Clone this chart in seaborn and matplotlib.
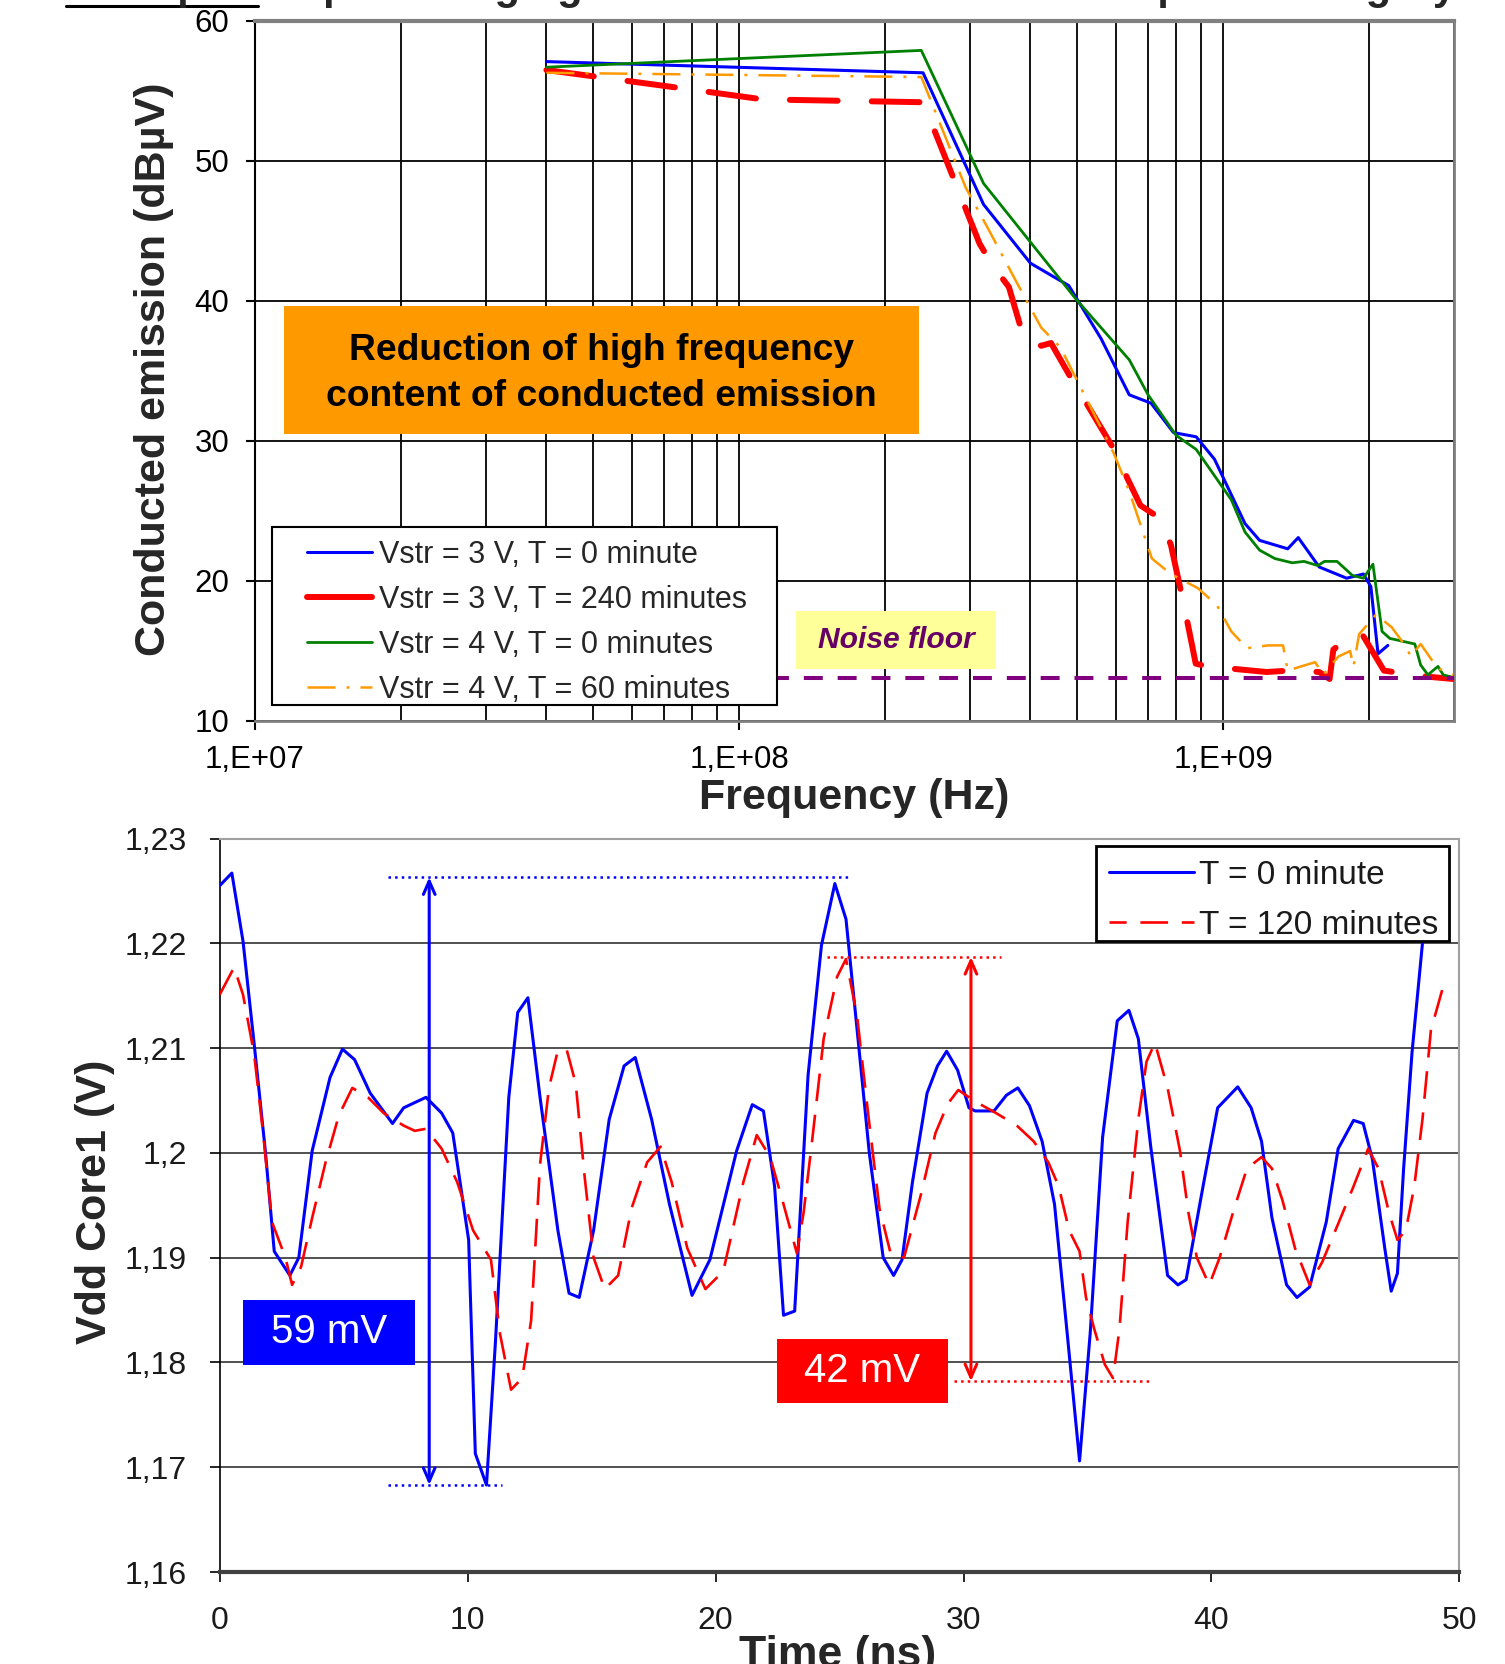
import numpy as np
import matplotlib
matplotlib.use("Agg")
import matplotlib.pyplot as plt
import seaborn as sns
from matplotlib.patches import Rectangle
from matplotlib.lines import Line2D
from matplotlib.ticker import FixedLocator, LogLocator, NullFormatter

# ---------------- data : top chart (conducted emission) ----------------
f_3v_t0 = [4.0e7, 2.4e8, 3.2e8, 4.0e8, 4.8e8, 5.6e8, 6.4e8, 7.1e8, 7.9e8, 8.8e8, 9.6e8,
           1.11e9, 1.19e9, 1.36e9, 1.43e9, 1.58e9, 1.80e9, 1.95e9, 2.02e9, 2.09e9, 2.19e9]
v_3v_t0 = [57.1, 56.3, 46.9, 42.7, 41.1, 37.3, 33.3, 32.7, 30.6, 30.3, 28.7,
           24.1, 22.9, 22.3, 23.1, 21.0, 20.2, 20.5, 19.6, 14.8, 15.4]

f_3v_t240 = [4.0e7, 7.6e7, 1.12e8, 2.38e8, 2.44e8, 3.14e8, 3.33e8, 3.61e8, 3.88e8, 4.21e8,
             4.41e8, 4.87e8, 5.24e8, 6.0e8, 6.33e8, 6.75e8, 7.39e8, 7.8e8, 8.24e8, 8.47e8,
             8.78e8, 9.27e8, 1.07e9, 1.23e9, 1.37e9, 1.58e9, 1.66e9, 1.69e9, 1.76e9, 1.93e9,
             2.15e9, 2.25e9, 2.58e9, 2.99e9]
v_3v_t240 = [56.5, 55.2, 54.4, 54.2, 53.6, 44.1, 42.6, 41.0, 37.3, 36.8,
             37.0, 34.4, 32.6, 29.2, 27.4, 25.4, 24.5, 22.6, 18.8, 16.8,
             14.1, 13.9, 13.7, 13.5, 13.6, 13.5, 13.0, 15.1, 15.6, 16.3,
             13.6, 13.5, 13.2, 13.0]

f_4v_t0 = [4.0e7, 2.38e8, 3.2e8, 4.95e8, 6.4e8, 7.0e8, 8.0e8, 8.8e8, 1.04e9, 1.11e9,
           1.19e9, 1.28e9, 1.39e9, 1.47e9, 1.57e9, 1.62e9, 1.72e9, 1.85e9, 1.95e9, 2.04e9,
           2.13e9, 2.21e9, 2.49e9, 2.56e9, 2.65e9, 2.78e9, 2.85e9, 2.99e9]
v_4v_t0 = [56.7, 57.9, 48.4, 40.2, 35.8, 33.3, 30.4, 29.4, 25.8, 23.5,
           22.2, 21.6, 21.3, 21.4, 21.1, 21.4, 21.4, 20.4, 20.2, 21.2,
           16.4, 15.9, 15.5, 14.0, 13.3, 13.9, 13.3, 13.1]

f_4v_t60 = [4.0e7, 2.38e8, 2.94e8, 3.29e8, 3.71e8, 4.21e8, 4.61e8, 5.24e8, 5.95e8, 6.4e8,
            7.13e8, 7.8e8, 8.86e8, 9.7e8, 1.04e9, 1.12e9, 1.24e9, 1.33e9, 1.36e9, 1.45e9,
            1.55e9, 1.61e9, 1.73e9, 1.83e9, 1.86e9, 1.91e9, 2.07e9, 2.23e9, 2.40e9, 2.44e9,
            2.56e9, 2.77e9, 2.99e9]
v_4v_t60 = [56.3, 56.0, 48.1, 45.0, 41.6, 38.1, 36.7, 32.9, 29.1, 26.4,
            21.6, 20.5, 19.5, 18.3, 16.4, 15.2, 15.4, 15.4, 13.6, 13.9,
            14.2, 13.3, 14.6, 15.0, 13.9, 16.2, 17.6, 16.7, 15.2, 14.6,
            15.5, 13.8, 13.3]

noise_floor_f = [1.16e8, 3.0e9]
noise_floor_v = [13.1, 13.1]

top_labels = ["Vstr = 3 V, T = 0 minute", "Vstr = 3 V, T = 240 minutes",
              "Vstr = 4 V, T = 0 minutes", "Vstr = 4 V, T = 60 minutes"]
top_xticks = [1e7, 1e8, 1e9]
top_xticklabels = ["1,E+07", "1,E+08", "1,E+09"]
top_yticks = [10, 20, 30, 40, 50, 60]

# ---------------- data : bottom chart (Vdd Core1) ----------------
t_0min = [0, 0.49, 0.94, 1.39, 1.84, 2.2, 2.83, 3.19, 3.73, 4.45, 4.95, 5.44, 6.07, 6.97, 7.42,
          8.32, 8.95, 9.4, 10.04, 10.31, 10.76, 11.12, 11.66, 12.02, 12.43, 12.92, 13.64, 14.09,
          14.5, 15.08, 15.71, 16.31, 16.76, 17.42, 18.14, 19.05, 19.77, 20.85, 21.48, 21.93,
          22.38, 22.74, 23.19, 23.73, 24.27, 24.81, 25.26, 25.71, 26.2, 26.76, 27.18, 27.52,
          27.94, 28.53, 28.95, 29.32, 29.76, 30.22, 30.47, 31.23, 31.73, 32.19, 32.66, 33.17,
          33.67, 34.18, 34.68, 35.11, 35.61, 36.2, 36.67, 37.05, 37.55, 38.23, 38.65, 38.98,
          39.66, 40.25, 41.06, 41.6, 42.02, 42.44, 43.03, 43.45, 43.96, 44.63, 45.11, 45.73,
          46.12, 46.49, 46.99, 47.25, 47.5, 47.75, 48.09, 48.51, 48.93]
v_0min = [1.2255, 1.2267, 1.2202, 1.2104, 1.2002, 1.1906, 1.1883, 1.1900, 1.2002, 1.2072,
          1.2099, 1.2089, 1.2057, 1.2028, 1.2043, 1.2053, 1.2038, 1.2019, 1.1917, 1.1713,
          1.1683, 1.1819, 1.2053, 1.2134, 1.2148, 1.2053, 1.1926, 1.1866, 1.1862, 1.1926,
          1.2032, 1.2083, 1.2091, 1.2032, 1.1951, 1.1864, 1.1898, 1.2002, 1.2046, 1.2040,
          1.1968, 1.1845, 1.1849, 1.2074, 1.2198, 1.2257, 1.2223, 1.2117, 1.2000, 1.1900,
          1.1883, 1.1898, 1.1972, 1.2057, 1.2083, 1.2097, 1.2079, 1.2043, 1.2040, 1.2040,
          1.2055, 1.2062, 1.2045, 1.2011, 1.1951, 1.1828, 1.1706, 1.1828, 1.2015, 1.2126,
          1.2136, 1.2109, 1.2006, 1.1883, 1.1874, 1.1879, 1.1968, 1.2043, 1.2063, 1.2043,
          1.2011, 1.1938, 1.1874, 1.1862, 1.1872, 1.1934, 1.2004, 1.2031, 1.2028, 1.1994,
          1.1909, 1.1868, 1.1885, 1.1985, 1.2096, 1.2200, 1.2257]

t_120min = [0, 0.58, 0.94, 1.39, 1.75, 2.11, 2.65, 2.92, 3.28, 3.73, 4.27, 4.81, 5.35, 5.98,
            6.61, 7.42, 7.87, 8.32, 8.95, 9.58, 10.22, 10.94, 11.3, 11.75, 12.2, 12.56, 12.92,
            13.28, 13.64, 14.0, 14.36, 14.72, 15.08, 15.53, 16.07, 16.61, 17.24, 17.78, 18.23,
            18.86, 19.59, 20.31, 21.12, 21.66, 22.2, 22.74, 23.28, 23.55, 23.91, 24.36, 24.9,
            25.26, 25.71, 26.16, 26.61, 27.06, 27.6, 28.28, 28.87, 29.37, 29.79, 30.47, 31.31,
            32.15, 32.83, 33.42, 33.84, 34.26, 34.68, 34.94, 35.27, 35.7, 36.03, 36.29, 36.62,
            37.05, 37.38, 37.72, 38.23, 38.73, 39.07, 39.41, 39.91, 40.33, 40.92, 41.43, 42.02,
            42.44, 42.86, 43.37, 43.96, 44.47, 45.14, 45.73, 46.32, 46.74, 47.16, 47.5, 47.84,
            48.18, 48.51, 48.85, 49.36]
v_120min = [1.2151, 1.2177, 1.2151, 1.2094, 1.2019, 1.1934, 1.1900, 1.1874, 1.1891, 1.1938,
            1.1991, 1.2036, 1.2062, 1.2053, 1.2038, 1.2026, 1.2021, 1.2023, 1.2004, 1.1972,
            1.1926, 1.1898, 1.1828, 1.1774, 1.1785, 1.1840, 1.1989, 1.2062, 1.2098, 1.2098,
            1.2066, 1.1977, 1.1900, 1.1870, 1.1883, 1.1947, 1.1991, 1.2006, 1.1972, 1.1909,
            1.1870, 1.1887, 1.1972, 1.2017, 1.1996, 1.1951, 1.1904, 1.1943, 1.2015, 1.2109,
            1.2168, 1.2185, 1.2130, 1.2036, 1.1947, 1.1904, 1.1900, 1.1960, 1.2019, 1.2047,
            1.2060, 1.2049, 1.2038, 1.2026, 1.2011, 1.1991, 1.1968, 1.1926, 1.1906, 1.1862,
            1.1832, 1.1798, 1.1785, 1.1832, 1.1934, 1.2032, 1.2087, 1.2105, 1.2062, 1.2002,
            1.1943, 1.1900, 1.1874, 1.1900, 1.1947, 1.1985, 1.1996, 1.1985, 1.1955, 1.1909,
            1.1874, 1.1896, 1.1934, 1.1968, 1.2004, 1.1985, 1.1943, 1.1917, 1.1926, 1.1968,
            1.2032, 1.2117, 1.2160]

bottom_labels = ["T = 0 minute", "T = 120 minutes"]
bottom_xticks = [0, 10, 20, 30, 40, 50]
bottom_yticks = [1.16, 1.17, 1.18, 1.19, 1.20, 1.21, 1.22, 1.23]
bottom_yticklabels = ["1,16", "1,17", "1,18", "1,19", "1,2", "1,21", "1,22", "1,23"]

# annotation values (bottom chart)
blue_span = dict(t=8.45, top=1.2263, bottom=1.1683, top_from=6.8, top_to=25.4, bot_from=6.8, bot_to=11.4)
red_span = dict(t=30.3, top=1.2187, bottom=1.1782, top_from=24.5, top_to=31.5, bot_from=29.6, bot_to=37.5)

# ---------------- styling ----------------
sns.set_theme(style="white")
plt.rcParams['font.family'] = ['Liberation Sans', 'DejaVu Sans']

W, H = 1505, 1664
fig = plt.figure(figsize=(W / 100, H / 100), dpi=100)


def fx(px):
    return px / W


def fy(py):
    return 1 - py / H


# ===================== TOP CHART =====================
ax1 = fig.add_axes([fx(255), fy(721), (1454 - 255) / W, (721 - 21) / H])
ax1.set_xscale('log')

BLUE, RED, GREEN, ORANGE, PURPLE = '#0000FF', '#FF0000', '#008000', '#FF9900', '#800080'

sns.lineplot(x=f_3v_t0, y=v_3v_t0, ax=ax1, color=BLUE, lw=2.2, sort=False,
             estimator=None, errorbar=None, zorder=3)
sns.lineplot(x=f_3v_t240, y=v_3v_t240, ax=ax1, color=RED, lw=4.3, sort=False,
             estimator=None, errorbar=None, linestyle=(0, (8, 5.7)),
             dash_capstyle='round', solid_capstyle='round', zorder=3)
sns.lineplot(x=f_4v_t0, y=v_4v_t0, ax=ax1, color=GREEN, lw=2.0, sort=False,
             estimator=None, errorbar=None, zorder=3)
sns.lineplot(x=f_4v_t60, y=v_4v_t60, ax=ax1, color=ORANGE, lw=1.8, sort=False,
             estimator=None, errorbar=None, linestyle=(0, (11.2, 4.4, 1.2, 4.4)), zorder=3)
sns.lineplot(x=noise_floor_f, y=noise_floor_v, ax=ax1, color=PURPLE, lw=2.9, sort=False,
             estimator=None, errorbar=None, linestyle=(0, (4.7, 3.7)), zorder=3)

ax1.set_xlim(1e7, 3e9)
ax1.set_ylim(10, 60)
ax1.set_yticks(top_yticks)
ax1.xaxis.set_major_locator(FixedLocator(top_xticks))
ax1.set_xticklabels(top_xticklabels)
ax1.xaxis.set_minor_locator(LogLocator(base=10, subs=np.arange(2, 10)))
ax1.xaxis.set_minor_formatter(NullFormatter())
ax1.set_axisbelow(True)
ax1.grid(True, which='both', axis='x', color='black', lw=1.3)
ax1.grid(True, which='major', axis='y', color='black', lw=1.3)
ax1.tick_params(axis='both', which='major', labelsize=22.5, direction='out', length=6.5,
                width=1.5, color='black', bottom=True, left=True, labelcolor='black')
ax1.tick_params(axis='x', which='major', pad=11)
ax1.tick_params(axis='y', which='major', pad=12)
ax1.tick_params(axis='x', which='minor', length=0, bottom=False)
for s, c, w in [('top', '#808080', 3.0), ('right', '#808080', 2.0),
                ('left', 'black', 1.5), ('bottom', '#808080', 2.0)]:
    ax1.spines[s].set_color(c)
    ax1.spines[s].set_linewidth(w)
ax1.set_xlabel('')
ax1.set_ylabel('')

# orange annotation box
ax1.add_patch(Rectangle((0.0242, 0.41), 0.5296, 0.1829, transform=ax1.transAxes,
                        facecolor=ORANGE, edgecolor='none', zorder=4))
ax1.text(0.289, 0.4964, "Reduction of high frequency\ncontent of conducted emission",
         transform=ax1.transAxes, ha='center', va='center', fontsize=26.8,
         fontweight='bold', linespacing=1.38, color='black', zorder=6)

# noise floor label
ax1.add_patch(Rectangle((0.4512, 0.0743), 0.1668, 0.0829, transform=ax1.transAxes,
                        facecolor='#FFFF99', edgecolor='none', zorder=4))
ax1.text(0.5346, 0.1157, "Noise floor", transform=ax1.transAxes, ha='center', va='center',
         fontsize=21.6, fontweight='bold', fontstyle='italic', color='#660066', zorder=6)

# legend (top)
ax1.add_patch(Rectangle((0.01418, 0.02286), 0.4212, 0.2543, transform=ax1.transAxes,
                        facecolor='white', edgecolor='black', lw=1.5, zorder=4))
top_handles = [Line2D([], [], color=BLUE, lw=2.2),
               Line2D([], [], color=RED, lw=4.3, solid_capstyle='round'),
               Line2D([], [], color=GREEN, lw=2.0),
               Line2D([], [], color=ORANGE, lw=1.8, linestyle=(0, (11.2, 4.4, 1.2, 4.4)))]
leg1 = ax1.legend(top_handles, top_labels, loc='upper left', bbox_to_anchor=(0.0434, 0.2583),
                  frameon=False, fontsize=22, handlelength=2.13, handletextpad=0.23,
                  labelspacing=0.49, borderpad=0, borderaxespad=0)
leg1.set_zorder(6)

fig.text(fx(154), fy(369), "Conducted emission (dBµV)", rotation=90, ha='center', va='center',
         fontsize=31, fontweight='bold')
fig.text(fx(854), fy(798), "Frequency (Hz)", ha='center', va='center', fontsize=31,
         fontweight='bold')

# cut-off title fragment at the very top (only its lowest part lies inside the picture)
fig.text(fx(66), fy(-1), "Example : Impact of aging on conducted emission and power integrity",
         ha='left', va='baseline', fontsize=30, fontweight='bold')
fig.add_artist(Line2D([fx(66), fx(258)], [fy(6), fy(6)], color='black', lw=2.2,
                      transform=fig.transFigure))

# ===================== BOTTOM CHART =====================
ax2 = fig.add_axes([fx(219.7), fy(1572), (1459.4 - 219.7) / W, (1572 - 838.5) / H])

sns.lineplot(x=t_0min, y=v_0min, ax=ax2, color=BLUE, lw=2.2, sort=False,
             estimator=None, errorbar=None, zorder=3)
sns.lineplot(x=t_120min, y=v_120min, ax=ax2, color=RED, lw=1.9, sort=False,
             estimator=None, errorbar=None, linestyle=(0, (10.5, 5.2)), zorder=3)

ax2.set_xlim(0, 50)
ax2.set_ylim(1.16, 1.23)
ax2.set_xticks(bottom_xticks)
ax2.set_xticklabels([str(v) for v in bottom_xticks])
ax2.set_yticks(bottom_yticks)
ax2.set_yticklabels(bottom_yticklabels)
ax2.set_axisbelow(True)
ax2.grid(True, which='major', axis='y', color='#202020', lw=1.1)
ax2.grid(False, axis='x')
ax2.tick_params(axis='both', which='major', labelsize=23, direction='out', length=7.5,
                width=1.2, color='black', bottom=True, left=True, labelcolor='#1a1a1a')
ax2.tick_params(axis='x', pad=17)
ax2.tick_params(axis='y', pad=16)
for s, c, w in [('top', '#A0A0A0', 1.5), ('right', '#A0A0A0', 1.5),
                ('left', 'black', 1.2), ('bottom', '#404040', 3.0)]:
    ax2.spines[s].set_color(c)
    ax2.spines[s].set_linewidth(w)
ax2.set_xlabel('')
ax2.set_ylabel('')

# dotted guides and double arrows
for span, col in [(blue_span, BLUE), (red_span, RED)]:
    ax2.hlines(span['top'], span['top_from'], span['top_to'], colors=col, lw=1.8,
               linestyles=':', zorder=4)
    ax2.hlines(span['bottom'], span['bot_from'], span['bot_to'], colors=col, lw=1.8,
               linestyles=':', zorder=4)
    ax2.annotate('', xy=(span['t'], span['bottom']), xytext=(span['t'], span['top']),
                 arrowprops=dict(arrowstyle='<->,head_length=0.8,head_width=0.35', color=col,
                                 lw=2.2, shrinkA=0, shrinkB=0), zorder=4)

ax2.add_patch(Rectangle((0.94, 1.1798), 6.93, 0.0062, facecolor=BLUE, edgecolor='none', zorder=5))
ax2.text(4.4, 1.1829, "59 mV", ha='center', va='center', fontsize=29, color='white', zorder=6)
ax2.add_patch(Rectangle((22.47, 1.1761), 6.9, 0.0061, facecolor=RED, edgecolor='none', zorder=5))
ax2.text(25.92, 1.17915, "42 mV", ha='center', va='center', fontsize=29, color='white', zorder=6)

# legend (bottom)
ax2.add_patch(Rectangle((0.7069, 0.8603), 0.2847, 0.1295, transform=ax2.transAxes,
                        facecolor='white', edgecolor='black', lw=2.0, zorder=5, clip_on=False))
bottom_handles = [Line2D([], [], color=BLUE, lw=2.2),
                  Line2D([], [], color=RED, lw=1.9, linestyle=(4, (10.5, 5.2)))]
leg2 = ax2.legend(bottom_handles, bottom_labels, loc='upper left', bbox_to_anchor=(0.7174, 0.9706),
                  frameon=False, fontsize=24, handlelength=2.55, handletextpad=0.15,
                  labelspacing=0.565, borderpad=0, borderaxespad=0)
for txt in leg2.get_texts():
    txt.set_color('#1a1a1a')
leg2.set_zorder(7)

fig.text(fx(95), fy(1202), "Vdd Core1 (V)", rotation=90, ha='center', va='center',
         fontsize=31, fontweight='bold')
fig.text(fx(838), fy(1635), "Time (ns)", ha='center', va='top', fontsize=32, fontweight='bold')

fig.savefig("out.png", dpi=100)
